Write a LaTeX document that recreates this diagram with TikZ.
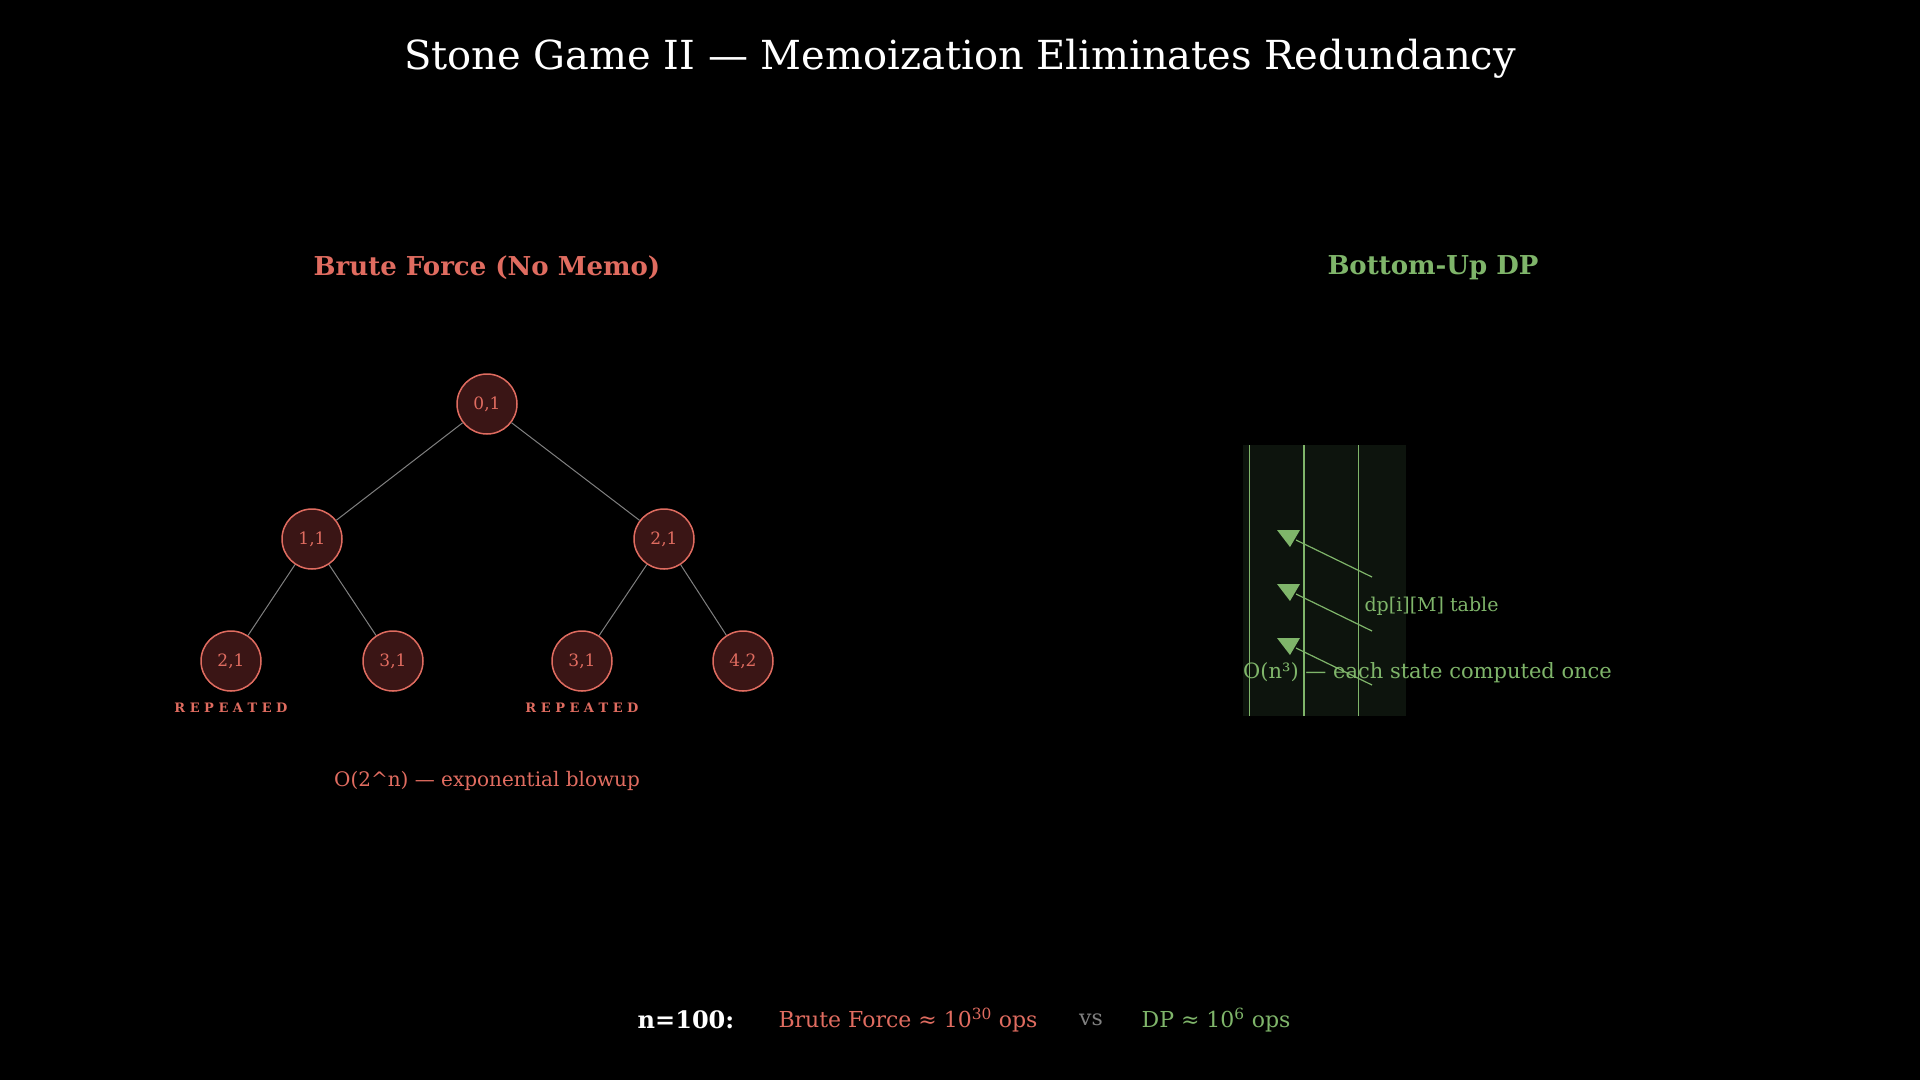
\documentclass[tikz,border=0pt]{standalone}
\usepackage{fontspec}
\setmainfont{DejaVu Serif}
\usetikzlibrary{positioning}
\definecolor{Brute}{RGB}{224,108,96}
\definecolor{BruteFill}{RGB}{58,21,21}
\definecolor{Dp}{RGB}{127,181,106}
\definecolor{DpFill}{RGB}{13,20,13}

\tikzset{
  state/.style={circle, draw=Brute, fill=BruteFill, line width=1.5pt, minimum size=60pt, inner sep=0pt, text=Brute, font=\fontsize{17}{17}\selectfont},
  edge/.style={draw=gray, line width=1pt},
  repeated/.style={text=Brute, font=\bfseries\fontsize{13}{13}\selectfont},
}

\begin{document}
\begin{tikzpicture}[x=1pt, y=-1pt]
    %% Background
    \fill[black] (0,0) rectangle (1920,1080);
    \useasboundingbox (0,0) rectangle (1920,1080);

    %% Title
    \node[text=white, font=\fontsize{40}{40}\selectfont] (title) at (960,59) {Stone Game II — Memoization Eliminates Redundancy};

    %% Brute force tree
    \node[text=Brute, font=\bfseries\fontsize{26}{26}\selectfont] (bfhead) at (487,268) {Brute Force (No Memo)};

    \node[state] (r) at (487,404) {0,1};
    \node[state] (a) at (312,539) {1,1};
    \node[state] (b) at (664,539) {2,1};
    \node[state] (aa) at (231,661) {2,1};
    \node[state] (ab) at (393,661) {3,1};
    \node[state] (ba) at (582,661) {3,1};
    \node[state] (bb) at (743,661) {4,2};

    \draw[edge] (r) -- (a);
    \draw[edge] (r) -- (b);
    \draw[edge] (a) -- (aa);
    \draw[edge] (a) -- (ab);
    \draw[edge] (b) -- (ba);
    \draw[edge] (b) -- (bb);

    \node[repeated] (rep1) at (231,708) {R E P E A T E D};
    \node[repeated] (rep2) at (582,708) {R E P E A T E D};

    \node[text=Brute, font=\fontsize{20}{20}\selectfont] (bfcost) at (487,781) {O(2\^{}n) — exponential blowup};

    %% Bottom-up table
    \node[text=Dp, font=\bfseries\fontsize{26}{26}\selectfont] (dphead) at (1433,268) {Bottom-Up DP};

    \fill[DpFill] (1243,445) rectangle (1406,716);
    \draw[Dp, line width=1.2pt] (1243,445) grid[xstep=54.33, ystep=54.2] (1406,716);

    \foreach \k in {0,1,2} {
        \fill[Dp] (1277,530+54*\k) -- (1300,530+54*\k) -- (1290,547+54*\k) -- cycle;
        \draw[Dp, line width=1.2pt] (1296,540+54*\k) -- (1372,577+54*\k);
    }

    \node[text=Dp, font=\fontsize{19}{19}\selectfont, anchor=west] (dplabel) at (1361,606) {dp[i][M] table};
    \node[text=Dp, font=\fontsize{21}{21}\selectfont, anchor=west, inner sep=0pt] (dpcost) at (1243,673) {O(n³) — each state computed once};

    %% Comparison
    \node[text=white, font=\bfseries\fontsize{24}{24}\selectfont] (n) at (686,1020) {n=100:};
    \node[text=Brute, font=\fontsize{22}{22}\selectfont] (bfops) at (908,1020) {Brute Force ≈ 10\textsuperscript{30} ops};
    \node[text=gray, font=\fontsize{22}{22}\selectfont] (vs) at (1091,1020) {vs};
    \node[text=Dp, font=\fontsize{22}{22}\selectfont] (dpops) at (1216,1020) {DP ≈ 10\textsuperscript{6} ops};
\end{tikzpicture}
\end{document}
